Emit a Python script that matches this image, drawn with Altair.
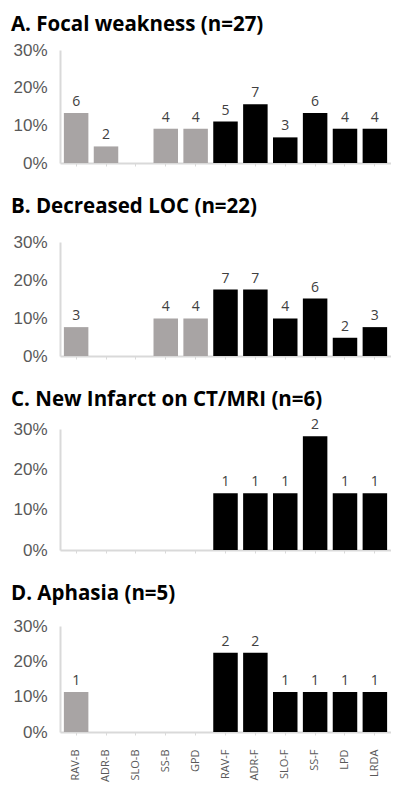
import altair as alt
import pandas as pd

categories = ["RAV-B", "ADR-B", "SLO-B", "SS-B", "GPD", "RAV-F", "ADR-F", "SLO-F", "SS-F", "LPD", "LRDA"]
groups = ["B", "B", "B", "B", "B", "F", "F", "F", "F", "F", "F"]

titles = [
    "A. Focal weakness (n=27)",
    "B. Decreased LOC (n=22)",
    "C. New Infarct on CT/MRI (n=6)",
    "D. Aphasia (n=5)",
]

pct_a = [13.3, 4.4, 0, 9.1, 9.1, 11.0, 15.6, 6.8, 13.3, 9.1, 9.1]
cnt_a = [6, 2, 0, 4, 4, 5, 7, 3, 6, 4, 4]

pct_b = [7.6, 0, 0, 9.9, 9.9, 17.5, 17.5, 9.9, 15.1, 4.8, 7.6]
cnt_b = [3, 0, 0, 4, 4, 7, 7, 4, 6, 2, 3]

pct_c = [0, 0, 0, 0, 0, 14.1, 14.1, 14.1, 28.2, 14.1, 14.1]
cnt_c = [0, 0, 0, 0, 0, 1, 1, 1, 2, 1, 1]

pct_d = [11.3, 0, 0, 0, 0, 22.4, 22.4, 11.3, 11.3, 11.3, 11.3]
cnt_d = [1, 0, 0, 0, 0, 2, 2, 1, 1, 1, 1]

panels = [(pct_a, cnt_a), (pct_b, cnt_b), (pct_c, cnt_c), (pct_d, cnt_d)]
heights = [113, 114, 121, 106]
title_offsets = [6, 16, 8, 13]

GRAY = "#a8a4a4"
AXIS_GRAY = "#d9d9d9"
TEXT_GRAY = "#595959"


def panel(i):
    pct, cnt = panels[i]
    df = pd.DataFrame({
        "category": categories,
        "group": groups,
        "pct": [p / 100 for p in pct],
        "count": cnt,
    })
    df["label"] = [str(c) if c > 0 else "" for c in cnt]
    last = i == 3
    x = alt.X(
        "category:N",
        sort=categories,
        title=None,
        scale=alt.Scale(paddingInner=0.18, paddingOuter=0.13),
        axis=alt.Axis(
            labels=last,
            labelAngle=-90,
            labelFont="Open Sans",
            labelFontSize=11,
            labelColor=TEXT_GRAY,
            labelPadding=14,
            domainColor=AXIS_GRAY,
            domainWidth=2,
            tickColor=AXIS_GRAY,
            tickSize=3,
            ticks=True,
        ),
    )
    y = alt.Y(
        "pct:Q",
        title=None,
        scale=alt.Scale(domain=[0, 0.3], nice=False),
        axis=alt.Axis(
            values=[0, 0.1, 0.2, 0.3],
            format=".0%",
            labelFont="Liberation Sans",
            labelFontSize=17,
            labelColor=TEXT_GRAY,
            labelPadding=13,
            labelOverlap=False,
            domainColor=AXIS_GRAY,
            domainWidth=2,
            ticks=False,
            grid=False,
        ),
    )
    base = alt.Chart(df)
    bars = base.mark_bar().encode(
        x=x,
        y=y,
        color=alt.Color(
            "group:N",
            scale=alt.Scale(domain=["B", "F"], range=[GRAY, "#000000"]),
            legend=None,
        ),
    )
    text = base.transform_filter("datum.count > 0").mark_text(
        baseline="bottom", dy=-4, font="Open Sans", fontSize=14, color="#404040"
    ).encode(
        x=x,
        y=y,
        text="label:N",
    )
    return alt.layer(bars, text).properties(
        width=331,
        height=heights[i],
        title=alt.TitleParams(
            titles[i],
            anchor="start",
            font="Open Sans",
            fontSize=20.5,
            fontWeight="bold",
            color="#000000",
            offset=title_offsets[i],
            dx=-2,
        ),
    )


chart = alt.vconcat(*[panel(i) for i in range(4)], spacing=25).properties(
    padding={"left": 2, "top": 6, "right": 0, "bottom": 0}
).configure_view(stroke=None)

chart.save("out.html", embed_options={"renderer": "svg", "actions": False})
